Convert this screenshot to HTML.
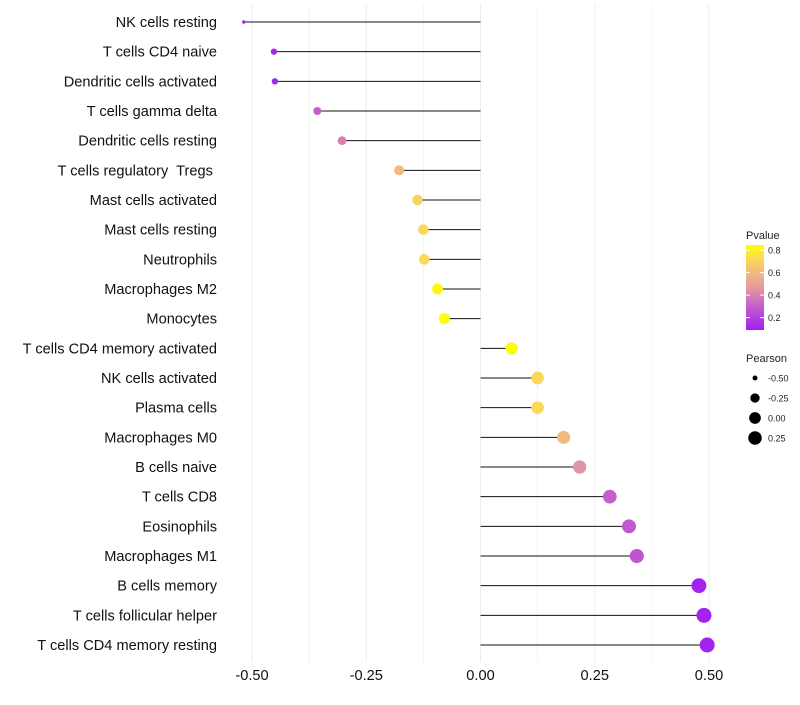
<!DOCTYPE html>
<html><head><meta charset="utf-8"><style>
body{margin:0;background:#fff;}
svg text{font-family:"Liberation Sans",sans-serif;white-space:pre;}
</style></head><body>
<svg id="chart" width="800" height="700" xmlns="http://www.w3.org/2000/svg">
<defs>
<linearGradient id="pgrad" x1="0" y1="1" x2="0" y2="0">
<stop offset="0" stop-color="#A020F0"/>
<stop offset="0.3" stop-color="#C863C8"/>
<stop offset="0.5" stop-color="#E49AA0"/>
<stop offset="0.7" stop-color="#F3BE7A"/>
<stop offset="0.85" stop-color="#F9DC55"/>
<stop offset="1" stop-color="#FFFF00"/>
</linearGradient>
</defs>
<g id="grid"></g>
<g id="marks"></g>
<g id="labels"></g>
<g id="xticks"></g>
<g>
<text x="746" y="239" font-size="11" fill="#222">Pvalue</text>
<rect x="746" y="245" width="18" height="85" fill="url(#pgrad)"/>
<g id="pticks"></g>
</g>
<g id="sizeLegend">
<text x="746" y="362" font-size="11" fill="#222">Pearson</text>
</g>
</svg>
<script>
const categories=["NK cells resting","T cells CD4 naive","Dendritic cells activated","T cells gamma delta","Dendritic cells resting","T cells regulatory  Tregs ","Mast cells activated","Mast cells resting","Neutrophils","Macrophages M2","Monocytes","T cells CD4 memory activated","NK cells activated","Plasma cells","Macrophages M0","B cells naive","T cells CD8","Eosinophils","Macrophages M1","B cells memory","T cells follicular helper","T cells CD4 memory resting"];
const pearson=[-0.518,-0.452,-0.45,-0.357,-0.303,-0.178,-0.138,-0.125,-0.123,-0.094,-0.079,0.068,0.125,0.125,0.182,0.217,0.283,0.325,0.342,0.478,0.489,0.496];
const pvalue=[0.1,0.12,0.12,0.3,0.4,0.6,0.7,0.72,0.72,0.82,0.84,0.84,0.72,0.72,0.6,0.45,0.3,0.28,0.27,0.1,0.1,0.1];
const xTicks=[-0.5,-0.25,0,0.25,0.5];
const xTickLabels=["-0.50","-0.25","0.00","0.25","0.50"];
const pTicks=[0.2,0.4,0.6,0.8];
const sizeLegendVals=[-0.5,-0.25,0,0.25];
const sizeLegendLabels=["-0.50","-0.25","0.00","0.25"];

const NS="http://www.w3.org/2000/svg";
const x=v=>480.5+v*457;
const y=i=>22+i*(623/21);
const pMin=0.09,pMax=0.845;
const pY=p=>330-(p-pMin)/(pMax-pMin)*85;
const stops=[[0,[160,32,240]],[0.3,[200,99,200]],[0.5,[228,154,160]],[0.7,[243,190,122]],[0.85,[249,220,85]],[1,[255,255,0]]];
function col(p){let t=Math.max(0,Math.min(1,(p-pMin)/(pMax-pMin)));for(let k=1;k<stops.length;k++){if(t<=stops[k][0]){const a=stops[k-1],b=stops[k];const f=(t-a[0])/(b[0]-a[0]);const c=a[1].map((v,j)=>Math.round(v+(b[1][j]-v)*f));return `rgb(${c})`;}}return "rgb(255,255,0)";}
const sMin=-0.518,sMax=0.496;
const r=v=>1.7+5.8*Math.sqrt(Math.max(0,(v-sMin)/(sMax-sMin)));
function mk(tag,at,parent){const e=document.createElementNS(NS,tag);for(const k in at)e.setAttribute(k,at[k]);document.getElementById(parent).appendChild(e);return e;}
for(let g=-0.5;g<=0.5001;g+=0.125){const l=mk('line',{x1:x(g),x2:x(g),y1:5,y2:662,stroke:'#ebebeb','stroke-width':(Math.abs(g*4-Math.round(g*4))<1e-6)?1:0.6},'grid');

}
categories.forEach((c,i)=>{
const ln=mk('line',{x1:x(0),x2:x(pearson[i]),y1:y(i),y2:y(i),stroke:'#111','stroke-width':1},'marks');


const d=mk('circle',{cx:x(pearson[i]),cy:y(i),r:r(pearson[i]),fill:col(pvalue[i])},'marks');


const t=mk('text',{x:217,y:y(i)+5,'text-anchor':'end','font-size':14.6,fill:'#111'},'labels');t.textContent=c;


});
xTicks.forEach((v,i)=>{const t=mk('text',{x:x(v),y:680,'text-anchor':'middle','font-size':14.6,fill:'#111'},'xticks');t.textContent=xTickLabels[i];

});
pTicks.forEach(p=>{mk('line',{x1:746,x2:750,y1:pY(p),y2:pY(p),stroke:'#fff'},'pticks');mk('line',{x1:760,x2:764,y1:pY(p),y2:pY(p),stroke:'#fff'},'pticks');
const t=mk('text',{x:768,y:pY(p)+3.5,'font-size':9,fill:'#222'},'pticks');t.textContent=p.toFixed(1);

});
sizeLegendVals.forEach((v,i)=>{const cy=378+i*20;const c=mk('circle',{cx:755,cy:cy,r:r(v),fill:'#000'},'sizeLegend');


const t=mk('text',{x:768,y:cy+3.5,'font-size':9,fill:'#222'},'sizeLegend');t.textContent=sizeLegendLabels[i];

});
</script>
</body></html>
